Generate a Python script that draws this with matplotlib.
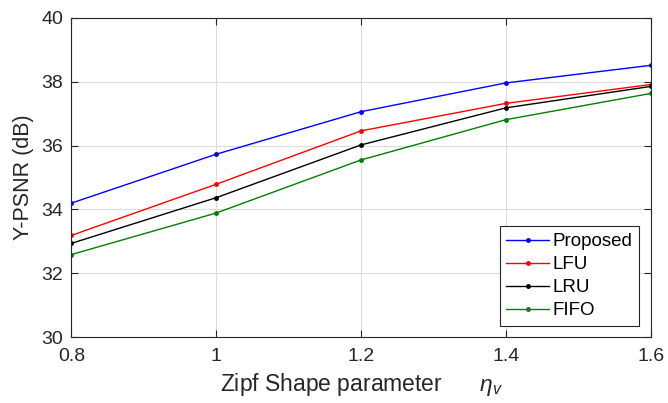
import matplotlib.pyplot as plt

plt.rcParams['font.family'] = ['Liberation Sans', 'DejaVu Sans']
plt.rcParams['mathtext.fontset'] = 'custom'
plt.rcParams['mathtext.it'] = 'Liberation Sans:italic'

eta = [0.8, 1.0, 1.2, 1.4, 1.6]
proposed = [34.20, 35.73, 37.06, 37.96, 38.51]
lfu = [33.19, 34.79, 36.46, 37.32, 37.91]
lru = [32.94, 34.37, 36.02, 37.18, 37.85]
fifo = [32.59, 33.89, 35.55, 36.81, 37.63]

names = ['Proposed', 'LFU', 'LRU', 'FIFO']
colors = ['#0000ff', '#ff0000', '#000000', '#008000']

fig = plt.figure(figsize=(6.68, 4.03), dpi=100)
ax = fig.add_axes([0.107, 0.163, 0.867, 0.793])

for ys, name, c in zip([proposed, lfu, lru, fifo], names, colors):
    ax.plot(eta, ys, color=c, marker='.', markersize=5, linewidth=1, label=name)

ax.set_xlim(0.8, 1.6)
ax.set_ylim(30, 40)
ax.set_xticks(eta)
ax.set_xticklabels(['0.8', '1', '1.2', '1.4', '1.6'])
ax.set_yticks([30, 32, 34, 36, 38, 40])
ax.grid(True, color='#dcdcdc', linewidth=0.8)
ax.tick_params(direction='in', length=5, labelsize=14, colors='#262626',
               top=True, right=True)
ax.tick_params(axis='x', pad=8)
ax.tick_params(axis='y', pad=6)
for s in ax.spines.values():
    s.set_color('#262626')
    s.set_linewidth(0.8)

ax.set_xlabel(r'Zipf Shape parameter      $\eta_v$', fontsize=16.5, color='#262626', labelpad=4)
ax.set_ylabel('Y-PSNR (dB)', fontsize=15.5, color='#262626', labelpad=5)

leg = ax.legend(loc='lower right', fontsize=13.5, fancybox=False, framealpha=1,
                edgecolor='#262626', handlelength=2.3, borderpad=0.35,
                labelspacing=0.32, handletextpad=0.2, borderaxespad=0.6)
leg.get_frame().set_linewidth(0.8)

fig.savefig('out.png', dpi=100)
